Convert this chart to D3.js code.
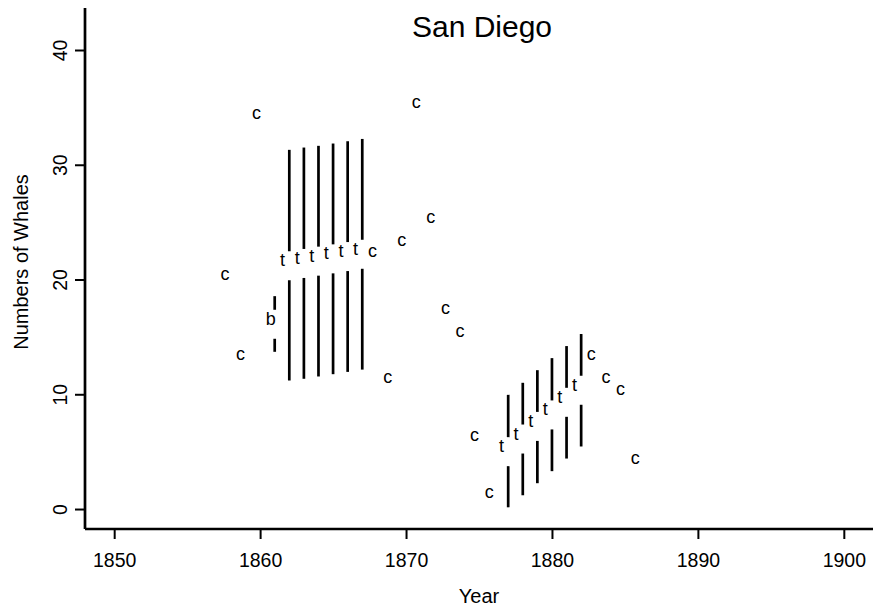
<!DOCTYPE html>
<html>
<head>
	<title>San Diego</title>
	<script src="https://d3js.org/d3.v7.min.js"></script>
	<style>
		body { margin: 0; background: #fff; }
		text { font-family: "Liberation Sans", Arial, Helvetica, sans-serif; fill: #000; }
	</style>
</head>
<body>
	<script>
		// "c" counts
		var cYears = [1857.6, 1858.65, 1859.75, 1867.7, 1868.75, 1869.7, 1870.7, 1871.7, 1872.7, 1873.7, 1874.7, 1875.7, 1882.7, 1883.7, 1884.7, 1885.7];
		var cCounts = [20, 13, 34, 22, 11, 23, 35, 25, 17, 15, 6, 1, 13, 11, 10, 4];

		// "t" estimates with intervals
		var tYears = [1862, 1863, 1864, 1865, 1866, 1867, 1877, 1878, 1879, 1880, 1881, 1882];
		var tEst  = [21.2, 21.4, 21.6, 21.8, 22.0, 22.2, 5.0, 6.1, 7.2, 8.2, 9.3, 10.35];
		var tLow  = [11.2, 11.35, 11.55, 11.75, 11.95, 12.15, 0.15, 1.2, 2.25, 3.3, 4.4, 5.45];
		var tHigh = [31.3, 31.5, 31.65, 31.85, 32.05, 32.25, 9.95, 11.0, 12.1, 13.15, 14.2, 15.25];

		// "b" estimate
		var bYears = [1861];
		var bEst = [16.1];
		var bLow = [13.7];
		var bHigh = [18.55];

		var xTicks = [1850, 1860, 1870, 1880, 1890, 1900];
		var yTicks = [0, 10, 20, 30, 40];

		var W = 881, H = 608;
		var gap = 14.5;

		var x = d3.scaleLinear().domain([1848, 1902]).range([85, 873]);
		var y = d3.scaleLinear().domain([-1.74, 43.66]).range([529, 8]);

		var svg = d3.select("body").append("svg")
			.attr("width", W)
			.attr("height", H);

		function rows(years, est, lo, hi, lab) {
			return years.map(function(d, i) {
				return {year: d, est: est[i], lo: lo[i], hi: hi[i], lab: lab};
			});
		}
		var bars = rows(tYears, tEst, tLow, tHigh, "t").concat(rows(bYears, bEst, bLow, bHigh, "b"));
		var cs = cYears.map(function(d, i) { return {year: d, n: cCounts[i]}; });

		// x axis
		var gx = svg.append("g")
			.attr("transform", "translate(0,529)")
			.call(d3.axisBottom(x).tickValues(xTicks).tickSize(10).tickSizeOuter(0).tickPadding(14).tickFormat(d3.format("d")));
		gx.select(".domain").attr("stroke-width", 2.7).attr("d", "M85,0H873");
		gx.selectAll(".tick line").attr("stroke-width", 2);
		gx.selectAll(".tick text").attr("font-size", 19.5).attr("font-family", null);

		// y axis
		var gy = svg.append("g")
			.attr("transform", "translate(85,0)")
			.call(d3.axisLeft(y).tickValues(yTicks).tickSize(10).tickSizeOuter(0));
		gy.select(".domain").attr("stroke-width", 2.7).attr("d", "M0,8V529");
		gy.selectAll(".tick line").attr("stroke-width", 2);
		gy.selectAll(".tick text")
			.attr("x", null).attr("dy", null)
			.attr("font-size", 19.5).attr("font-family", null)
			.attr("text-anchor", "middle")
			.attr("transform", "translate(-18,0) rotate(-90)");

		// interval bars, split around the label
		var bg = svg.append("g").attr("stroke", "#000").attr("stroke-width", 2.7);
		bg.selectAll(".up").data(bars).enter().append("line")
			.attr("x1", function(d) { return x(d.year); })
			.attr("x2", function(d) { return x(d.year); })
			.attr("y1", function(d) { return y(d.hi); })
			.attr("y2", function(d) { return y(d.est) - gap; });
		bg.selectAll(".dn").data(bars).enter().append("line")
			.attr("x1", function(d) { return x(d.year); })
			.attr("x2", function(d) { return x(d.year); })
			.attr("y1", function(d) { return y(d.est) + gap; })
			.attr("y2", function(d) { return y(d.lo); });

		svg.selectAll(".blab").data(bars).enter().append("text")
			.attr("x", function(d) { return x(d.year) + (d.lab == "t" ? -6.7 : -4); })
			.attr("y", function(d) { return y(d.est) + 0.5; })
			.attr("text-anchor", "middle")
			.attr("font-size", 18)
			.text(function(d) { return d.lab; });

		svg.selectAll(".clab").data(cs).enter().append("text")
			.attr("x", function(d) { return x(d.year); })
			.attr("y", function(d) { return y(d.n) + 0.5; })
			.attr("text-anchor", "middle")
			.attr("font-size", 18)
			.text("c");

		// titles
		svg.append("text")
			.attr("x", 482).attr("y", 36.5)
			.attr("text-anchor", "middle")
			.attr("font-size", 30)
			.text("San Diego");
		svg.append("text")
			.attr("x", 479).attr("y", 603)
			.attr("text-anchor", "middle")
			.attr("font-size", 20)
			.text("Year");
		svg.append("text")
			.attr("transform", "translate(28.3,262) rotate(-90)")
			.attr("text-anchor", "middle")
			.attr("font-size", 20)
			.text("Numbers of Whales");
	</script>
</body>
</html>
